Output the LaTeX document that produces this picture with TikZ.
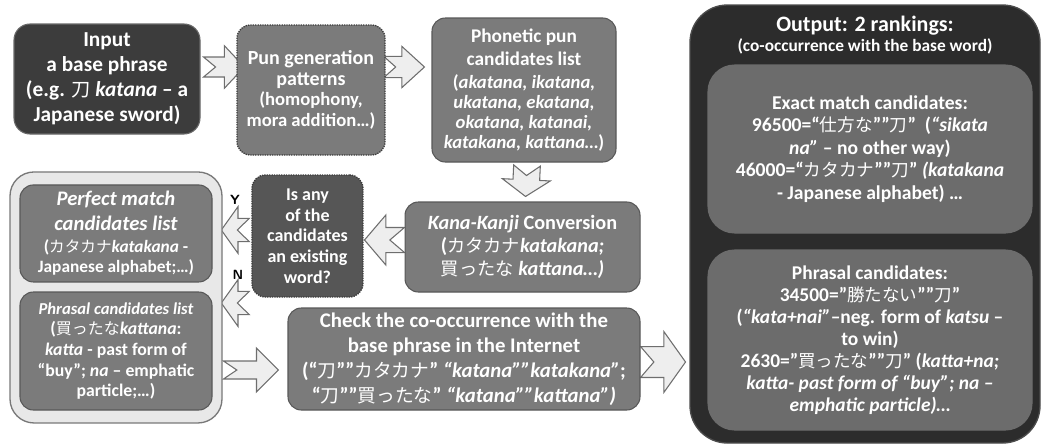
\documentclass[tikz,border=0pt]{standalone}
\usepackage{fontspec}
\setmainfont{Carlito}
\newfontfamily\jpfont[Scale=0.9]{Noto Sans CJK JP}
\usepackage{tikz}
\usetikzlibrary{calc, backgrounds}
\definecolor{inputdark}{RGB}{60,60,60}
\definecolor{inputedge}{RGB}{105,105,105}
\definecolor{stepgrey}{RGB}{123,123,123}
\definecolor{stepedge}{RGB}{88,88,88}
\definecolor{askdark}{RGB}{86,86,86}
\definecolor{dotedge}{RGB}{60,60,60}
\definecolor{panelgrey}{RGB}{232,232,232}
\definecolor{paneledge}{RGB}{120,120,120}
\definecolor{outdark}{RGB}{44,44,44}
\definecolor{outinner}{RGB}{108,108,108}
\definecolor{arrowfill}{RGB}{238,238,238}
\definecolor{arrowedge}{RGB}{110,110,110}
\newcommand{\jtext}[1]{{\jpfont\mdseries #1}}
% sizes of the smaller lines inside a box
\newcommand{\punsub}{\fontsize{14}{15}\selectfont}
\newcommand{\phlist}{\fontsize{14}{15}\selectfont}
\newcommand{\pmsub}{\fontsize{13}{15}\selectfont}
\newcommand{\plhead}{\fontsize{12.5}{15}\selectfont}
\newcommand{\outsub}{\fontsize{13}{15}\selectfont}

\tikzset{
    arr shaft/.store in=\arrsh, arr head/.store in=\arrhd,
    arr tip/.store in=\arrtl, arr notch/.store in=\arrnt,
    arr shaft=7.5pt, arr head=16pt, arr tip=15pt, arr notch=9pt
}

\begin{document}
\begin{tikzpicture}[
    x=1pt, y=-1pt,
    every node/.style={text=white, align=center, inner sep=0pt, font=\bfseries},
    stepbox/.style={draw=stepedge, fill=stepgrey, line width=0.8pt, rounded corners=10pt},
    dotbox/.style={stepbox, draw=dotedge, line width=1pt, dash pattern=on 1pt off 0.8pt},
    ynlab/.style={text=black, font=\sffamily\bfseries\fontsize{10}{12}\selectfont},
    blockarr/.style={draw=arrowedge, fill=arrowfill, line width=0.8pt, line join=miter,
        to path={let \p1=(\tikztostart), \p2=(\tikztotarget),
            \n1={atan2(\y2-\y1,\x2-\x1)}, \n2={veclen(\x2-\x1,\y2-\y1)} in
            ($(\p1)+({\n1+90}:\arrsh)$)
            -- ($(\p1)+({\n1}:{\n2-\arrtl})+({\n1+90}:\arrsh)$)
            -- ($(\p1)+({\n1}:{\n2-\arrtl})+({\n1+90}:\arrhd)$)
            -- (\p2)
            -- ($(\p1)+({\n1}:{\n2-\arrtl})+({\n1-90}:\arrhd)$)
            -- ($(\p1)+({\n1}:{\n2-\arrtl})+({\n1-90}:\arrsh)$)
            -- ($(\p1)+({\n1-90}:\arrsh)$)
            -- ($(\p1)+({\n1}:\arrnt)$) -- cycle}}
]

\useasboundingbox (0,0) rectangle (781.5,335.25);

% Top row
\node[stepbox, fill=inputdark, draw=inputedge, rounded corners=12pt,
      minimum width=139.5pt, minimum height=82.5pt,
      font=\bfseries\fontsize{16}{18.75}\selectfont] (in) at (80.25,59.25)
    {Input\\a base phrase\\(e.g. \jtext{刀} \textit{katana} – a\\Japanese sword)};
\node[dotbox, minimum width=111pt, minimum height=97.5pt,
      font=\bfseries\fontsize{15}{15.4}\selectfont] (pun) at (233.25,67.5)
    {Pun generation\\patterns\\\punsub (homophony,\\\punsub mora addition…)};
\node[stepbox, minimum width=138pt, minimum height=108pt,
      font=\bfseries\fontsize{14.5}{15}\selectfont] (ph) at (393,67.5)
    {Phonetic pun\\[2.5pt]candidates list\\[2.5pt]\phlist (\textit{akatana, ikatana,}\\
     \phlist\textit{ukatana, ekatana,}\\\phlist\textit{okatana, katanai,}\\
     \phlist\textit{katakana, kattana…})};

% Middle row
\node[stepbox, minimum width=176.25pt, minimum height=67.5pt,
      font=\bfseries\fontsize{15.2}{17}\selectfont] (kana) at (391.9,185.25)
    {\textit{Kana-Kanji} Conversion\\(\jtext{カタカナ}\textit{katakana;}\\\jtext{買ったな} \textit{kattana…)}};
\node[dotbox, fill=askdark, minimum width=83.25pt, minimum height=91.5pt,
      font=\bfseries\fontsize{13.5}{15.5}\selectfont] (is) at (230.6,177)
    {Is any\\of the\\candidates\\an existing\\word?};

% Left panel with the two lists
\node[draw=paneledge, fill=panelgrey, line width=1pt, rounded corners=18pt,
      minimum width=159pt, minimum height=188.25pt] (panel) at (87,223.1) {};
\node[stepbox, minimum width=144pt, minimum height=72.75pt,
      font=\bfseries\fontsize{15.5}{15}\selectfont] (pm) at (87,175.1)
    {\textit{Perfect match}\\[3.75pt]\textit{candidates list}\\[1.5pt]
     \pmsub (\jtext{カタカナ}\textit{katakana} -\\\pmsub Japanese alphabet;…)};
\node[stepbox, minimum width=144pt, minimum height=88.5pt,
      font=\bfseries\fontsize{13.3}{15.5}\selectfont] (pl) at (87,263.25)
    {\plhead\textit{Phrasal candidates list}\\(\jtext{買ったな}\textit{kattana}:\\\textit{katta} - past form of\\
     “buy”; \textit{na} – emphatic\\particle;…)};

% Bottom row
\node[stepbox, minimum width=264pt, minimum height=76.5pt,
      font=\bfseries\fontsize{15.6}{18.75}\selectfont] (ck) at (348,269.25)
    {Check the co-occurrence with the\\base phrase in the Internet\\
     (“\jtext{刀}””\jtext{カタカナ}” \textit{“katana””katakana”};\\
     “\jtext{刀}””\jtext{買ったな}” \textit{“katana””kattana”)}};

% Output
\node[draw=black!70, fill=outdark, line width=1pt, rounded corners=28pt,
      minimum width=262.5pt, minimum height=328.5pt] (out) at (648.75,168) {};
\node[font=\bfseries\fontsize{16.5}{15.5}\selectfont] (outtitle) at (648.75,26.25)
    {Output: 2 rankings:\\\outsub (co-occurrence with the base word)};
\node[stepbox, fill=outinner, draw=outinner, rounded corners=20pt,
      minimum width=243pt, minimum height=126pt,
      font=\bfseries\fontsize{14.7}{16.9}\selectfont] (ex) at (652.5,111.75)
    {Exact match candidates:\\96500=“\jtext{仕方な}””\jtext{刀}”\ \ (\textit{“sikata}\\
     \textit{na”} – no other way)\\46000=“\jtext{カタカナ}””\jtext{刀}” \textit{(katakana}\\
     - Japanese alphabet) …};
\node[stepbox, fill=outinner, draw=outinner, rounded corners=20pt,
      minimum width=243pt, minimum height=135pt,
      font=\bfseries\fontsize{14.6}{16.5}\selectfont] (po) at (652.5,255)
    {Phrasal candidates:\\34500=”\jtext{勝たない}””\jtext{刀}”\\
     (\textit{“kata+nai”}–neg. form of \textit{katsu} –\\to win)\\
     2630=”\jtext{買ったな}””\jtext{刀}” (\textit{katta+na;}\\
     \textit{katta- past form of “buy”; na –}\\\textit{emphatic particle)…}};

% Y / N labels
\node[ynlab] (ylab) at (176.25,150) {Y};
\node[ynlab] (nlab) at (178.5,206.25) {N};

% Block arrows
\begin{scope}[on background layer]
\draw[blockarr] ([xshift=2.25pt,yshift=9pt]in.east) to ([xshift=6pt,yshift=17.25pt]pun.west);
\draw[blockarr, arr shaft=8pt, arr head=15.5pt, arr tip=17pt]
    ([xshift=-1.5pt,yshift=17.25pt]pun.east) to ([xshift=-5.25pt,yshift=17.25pt]ph.west);
\draw[blockarr, arr shaft=10pt, arr head=18pt, arr tip=12.5pt, arr notch=7.5pt]
    ([xshift=2.25pt,yshift=-2.25pt]ph.south) to ([xshift=2.25pt,yshift=3.75pt]kana.north);
\draw[blockarr, arr shaft=9.4pt, arr head=18.75pt, arr tip=16pt, arr notch=11pt]
    ([yshift=5.25pt]kana.west) to ([xshift=-30pt,yshift=5.25pt]kana.west);
\draw[blockarr, arr shaft=8.75pt, arr head=17.5pt, arr tip=12.5pt]
    ([xshift=-1.5pt,yshift=4.5pt]is.west) to ([xshift=-22.5pt,yshift=4.5pt]is.west);
\draw[blockarr, arr shaft=8.75pt, arr head=17.5pt, arr tip=12.5pt]
    ([xshift=-1.5pt,yshift=-50.25pt]is.west) to ([xshift=-22.5pt,yshift=-50.25pt]is.west);
\draw[blockarr, arr shaft=6.75pt, arr head=16.5pt, arr tip=16.5pt, arr notch=10pt]
    ([xshift=-48pt,yshift=-8.25pt]ck.west) to ([xshift=-6.75pt,yshift=-8.25pt]ck.west);
\draw[blockarr, arr shaft=11.6pt, arr head=22.9pt, arr tip=16.3pt, arr notch=10pt]
    ([yshift=-2.25pt]ck.east) to ([xshift=33.75pt,yshift=-2.25pt]ck.east);
\end{scope}

\end{tikzpicture}
\end{document}
